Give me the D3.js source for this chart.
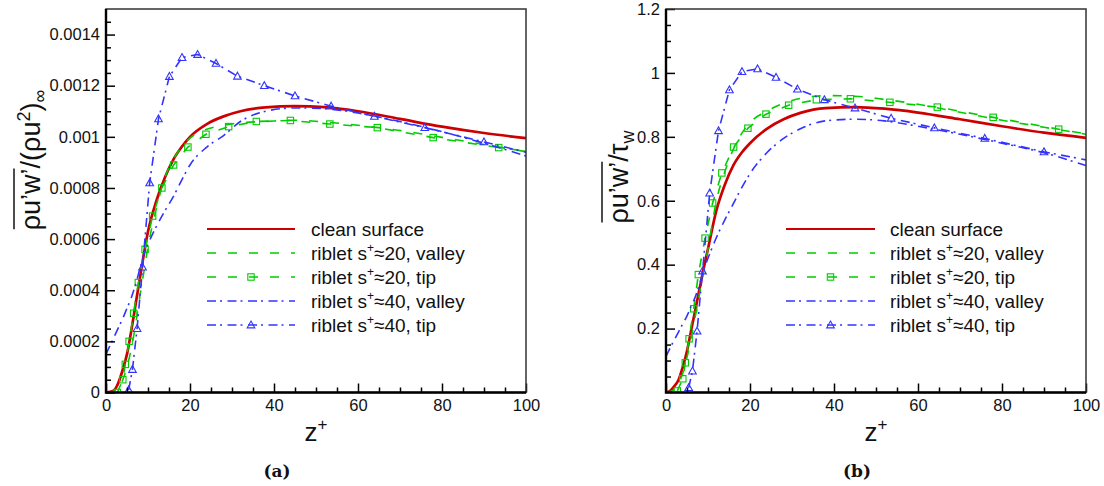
<!DOCTYPE html>
<html><head><meta charset="utf-8">
<script src="https://cdn.jsdelivr.net/npm/d3@7"></script>
<style>body{margin:0;background:#fff}svg{display:block}</style>
</head><body><svg id="c" width="1104" height="486"></svg>
<script>
// ---------- data ----------
const zGrid = [0,1,2,3,4,5,6,7,8,9,10,12,14,16,18,20,24,28,32,38,45,52,60,70,80,90,100];
const zTip20 = [2.7,4.0,4.6,5.5,6.6,7.7,9.3,11.1,13.3,16.1,19.5,23.8,29.2,35.8,43.9,53.3,64.6,77.9,93.5,100];
const zTip40 = [5.4,6.3,7.4,8.7,10.4,12.5,15.1,18.1,21.8,26.2,31.3,37.7,45,53.6,63.9,75.9,90,100];

// (a) normalised by free-stream
const cleanA   = [0,0.000003,0.00001,0.00004,0.00009,0.00015,0.00024,0.00034,0.00044,0.00054,0.00063,0.00075,0.00084,0.00091,0.00096,0.001,0.00105,0.00108,0.0011,0.001115,0.00112,0.001116,0.0011,0.00107,0.00104,0.001015,0.000995];
const valley20A= [0,0.000002,0.000006,0.00002,0.00005,0.0001,0.00017,0.00026,0.00037,0.00047,0.00057,0.00072,0.00084,0.00091,0.00096,0.000995,0.00103,0.001045,0.001055,0.00106,0.001065,0.001058,0.001045,0.001025,0.000998,0.00097,0.000942];
const tip20A   = [0,0.00005,0.00011,0.0002,0.00031,0.00043,0.00056,0.00069,0.0008,0.00089,0.00096,0.00101,0.00104,0.00106,0.001064,0.00105,0.001036,0.000997,0.000958,0.000944];
const valley40A= [0.00015,0.000185,0.00022,0.000255,0.00029,0.00033,0.00037,0.00042,0.00048,0.00054,0.00058,0.00065,0.00071,0.000765,0.00083,0.00089,0.00096,0.001005,0.00106,0.0011,0.001113,0.00111,0.001093,0.00106,0.00102,0.000975,0.000925];
const tip40A   = [0.00001,0.00009,0.00025,0.00049,0.00082,0.00107,0.001236,0.00131,0.001322,0.001287,0.001237,0.0012,0.00116,0.00112,0.00108,0.001036,0.00098,0.00094];

// (b) normalised by wall shear stress
const cleanB   = [0,0.005,0.02,0.04,0.08,0.13,0.195,0.26,0.325,0.39,0.45,0.57,0.65,0.71,0.75,0.78,0.825,0.855,0.875,0.89,0.893,0.888,0.876,0.855,0.833,0.813,0.797];
const valley20B= [0,0.003,0.01,0.03,0.06,0.11,0.17,0.24,0.31,0.38,0.45,0.6,0.69,0.76,0.81,0.845,0.88,0.905,0.92,0.929,0.927,0.917,0.902,0.877,0.852,0.83,0.808];
const tip20B   = [0.005,0.043,0.093,0.168,0.262,0.369,0.483,0.593,0.687,0.768,0.827,0.871,0.899,0.916,0.919,0.908,0.893,0.861,0.824,0.809];
const valley40B= [0.113,0.14,0.165,0.19,0.215,0.24,0.27,0.3,0.34,0.385,0.42,0.485,0.54,0.59,0.64,0.685,0.75,0.795,0.825,0.85,0.855,0.85,0.833,0.808,0.78,0.75,0.71];
const tip40B   = [0.015,0.067,0.192,0.38,0.624,0.819,0.947,1.004,1.0125,0.986,0.949,0.916,0.89,0.858,0.828,0.795,0.753,0.728];

const xTicks = [0,20,40,60,80,100];
const xTickLabels = ["0","20","40","60","80","100"];
const yTicksA = [0,0.0002,0.0004,0.0006,0.0008,0.001,0.0012,0.0014];
const yTickLabelsA = ["0","0.0002","0.0004","0.0006","0.0008","0.001","0.0012","0.0014"];
const yTicksB = [0.2,0.4,0.6,0.8,1,1.2];
const yTickLabelsB = ["0.2","0.4","0.6","0.8","1","1.2"];
const seriesNames = ["clean surface","riblet s+≈20, valley","riblet s+≈20, tip","riblet s+≈40, valley","riblet s+≈40, tip"];
const panelTags = ["(a)","(b)"];

// ---------- styles ----------
const RED="#cc0000", GREEN="#00cc00", BLUE="#3333ff";
const FONT="'Liberation Sans', Arial, Helvetica, sans-serif";
const styles = [
  {color:RED,  dash:null,          width:2.7, marker:null},
  {color:GREEN,dash:"9,12",        width:1.6, marker:null},
  {color:GREEN,dash:"9,12",        width:1.6, marker:"square"},
  {color:BLUE, dash:"9,4,2,5.5",   width:1.6, marker:null},
  {color:BLUE, dash:"9,4,2,5.5",   width:1.6, marker:"triangle"}
];

const svg = d3.select("#c");

function drawMarker(g, type, cx, cy, color){
  if(type==="square"){
    g.append("rect").attr("x",cx-3.2).attr("y",cy-3.2).attr("width",6.4).attr("height",6.4)
      .attr("fill","none").attr("stroke",color).attr("stroke-width",1.1);
  } else if(type==="triangle"){
    const s=3.8;
    g.append("path").attr("d",`M${cx},${cy-s*1.05}L${cx+s},${cy+s*0.75}L${cx-s},${cy+s*0.75}Z`)
      .attr("fill","none").attr("stroke",color).attr("stroke-width",1.1);
  }
}

function drawPanel(p){
  const x = d3.scaleLinear().domain([0,100]).range([p.left,p.right]);
  const y = d3.scaleLinear().domain([0,p.ymax]).range([p.bottom,p.top]);
  const clipId = "clip"+p.id;
  svg.append("clipPath").attr("id",clipId).append("rect")
    .attr("x",p.left).attr("y",p.top).attr("width",p.right-p.left).attr("height",p.bottom-p.top);
  const plot = svg.append("g").attr("clip-path",`url(#${clipId})`);

  p.series.forEach((s,i)=>{
    const st = styles[i];
    const pts = s.z.map((z,k)=>({z, v:s.v[k]}));
    const line = d3.line().x(d=>x(d.z)).y(d=>y(d.v))
      .curve(st.marker ? d3.curveLinear : d3.curveMonotoneX);
    plot.append("path").datum(pts).attr("d",line).attr("fill","none")
      .attr("stroke",st.color).attr("stroke-width",st.width)
      .attr("stroke-dasharray",st.dash).attr("stroke-linejoin","round");
    if(st.marker){
      const mg = plot.append("g");
      pts.filter(d=>d.z<100).forEach(d=>drawMarker(mg, st.marker, x(d.z), y(d.v), st.color));
    }
  });

  // axes (ticks inward)
  const ax = svg.append("g").attr("font-family",FONT);
  const minorX = d3.range(0,101,5).filter(v=>v%20!==0);
  const xa = ax.append("g").attr("transform",`translate(0,${p.bottom})`)
    .call(d3.axisBottom(x).tickValues(xTicks).tickFormat((d,i)=>xTickLabels[i]).tickSize(-9).tickPadding(7));
  ax.append("g").attr("transform",`translate(0,${p.bottom})`)
    .call(d3.axisBottom(x).tickValues(minorX).tickFormat("").tickSize(-5));
  ax.append("g").attr("transform",`translate(${p.left},0)`)
    .call(d3.axisLeft(y).tickValues(p.yTicks).tickFormat((d,i)=>p.yLabels[i]).tickSize(-9).tickPadding(6));
  ax.append("g").attr("transform",`translate(${p.left},0)`)
    .call(d3.axisLeft(y).tickValues(p.yMinor).tickFormat("").tickSize(-5));
  ax.selectAll(".domain").remove();
  ax.selectAll(".tick line").attr("stroke","#000").attr("stroke-width",1.5);
  ax.selectAll(".tick text").attr("font-size",16.5).attr("fill","#111");
  xa.selectAll(".tick text").attr("dy","0.72em");

  // frame
  svg.append("rect").attr("x",p.left).attr("y",p.top).attr("width",p.right-p.left).attr("height",p.bottom-p.top)
    .attr("fill","none").attr("stroke","#333").attr("stroke-width",1.5);
  svg.append("path").attr("d",`M${p.left},${p.top}V${p.bottom}H${p.right}`)
    .attr("fill","none").attr("stroke","#000").attr("stroke-width",2.4);

  // legend
  const lg = svg.append("g").attr("font-family",FONT);
  seriesNames.forEach((name,i)=>{
    const st = styles[i];
    const ry = p.legY + i*24;
    lg.append("line").attr("x1",p.legX0).attr("x2",p.legX1).attr("y1",ry).attr("y2",ry)
      .attr("stroke",st.color).attr("stroke-width",Math.min(st.width,2))
      .attr("stroke-dasharray",st.dash);
    if(st.marker) drawMarker(lg, st.marker, (p.legX0+p.legX1)/2, ry, st.color);
    const t = lg.append("text").attr("x",p.legTx).attr("y",ry+6.5).attr("font-size",19).attr("fill","#111");
    const m = name.match(/^(riblet s)\+(.*)$/);
    if(m){
      t.append("tspan").text(m[1]);
      t.append("tspan").attr("font-size",12).attr("dy",-8).text("+");
      t.append("tspan").attr("dy",8).text(m[2]);
    } else t.text(name);
  });

  // x label
  const xl = svg.append("text").attr("x",(p.left+p.right)/2).attr("y",441).attr("text-anchor","middle")
    .attr("font-family",FONT).attr("font-size",26).attr("fill","#111");
  xl.append("tspan").text("z");
  xl.append("tspan").attr("font-size",17).attr("dy",-11).text("+");

  // y label
  const g = svg.append("g").attr("transform",`translate(${p.ylx},${p.yly}) rotate(-90)`);
  const t = g.append("text").attr("font-family",FONT).attr("font-size",27).attr("fill","#111");
  const first = t.append("tspan").text("ρu’w’");
  p.ylabel(t);
  const total = t.node().getComputedTextLength();
  t.attr("x",-total/2);
  const w = first.node().getComputedTextLength();
  g.append("line").attr("x1",-total/2+1).attr("x2",-total/2+w).attr("y1",-26).attr("y2",-26)
    .attr("stroke","#111").attr("stroke-width",1.5);

  // panel tag
  svg.append("text").attr("x",p.tagX).attr("y",477).attr("text-anchor","middle")
    .attr("font-family","'DejaVu Serif', serif").attr("font-weight","bold").attr("font-size",17)
    .attr("fill","#111").text(p.tag);
}

drawPanel({
  id:"a", left:106, right:526, top:9, bottom:392.5, ymax:0.0015,
  yTicks:yTicksA, yLabels:yTickLabelsA,
  yMinor:d3.range(1,30).map(k=>k*0.00005).filter((v,k)=>(k+1)%4!==0),
  series:[{z:zGrid,v:cleanA},{z:zGrid,v:valley20A},{z:zTip20,v:tip20A},{z:zGrid,v:valley40A},{z:zTip40,v:tip40A}],
  legX0:207, legX1:295, legTx:311, legY:229,
  ylx:40, yly:160,
  ylabel:(t)=>{
    t.append("tspan").text("/(ρu");
    t.append("tspan").attr("font-size",18).attr("dy",-10).text("2");
    t.append("tspan").attr("dy",10).text(")");
    t.append("tspan").attr("font-size",18).attr("dy",6).text("∞");
  },
  tag:panelTags[0], tagX:277
});

drawPanel({
  id:"b", left:666, right:1086, top:9, bottom:392.5, ymax:1.2,
  yTicks:yTicksB, yLabels:yTickLabelsB,
  yMinor:d3.range(1,24).map(k=>k*0.05).filter((v,k)=>(k+1)%4!==0),
  series:[{z:zGrid,v:cleanB},{z:zGrid,v:valley20B},{z:zTip20,v:tip20B},{z:zGrid,v:valley40B},{z:zTip40,v:tip40B}],
  legX0:786, legX1:875, legTx:890, legY:229,
  ylx:628, yly:177,
  ylabel:(t)=>{
    t.append("tspan").text("/τ");
    t.append("tspan").attr("font-size",18).attr("dy",6).text("w");
  },
  tag:panelTags[1], tagX:857
});
</script></body></html>
